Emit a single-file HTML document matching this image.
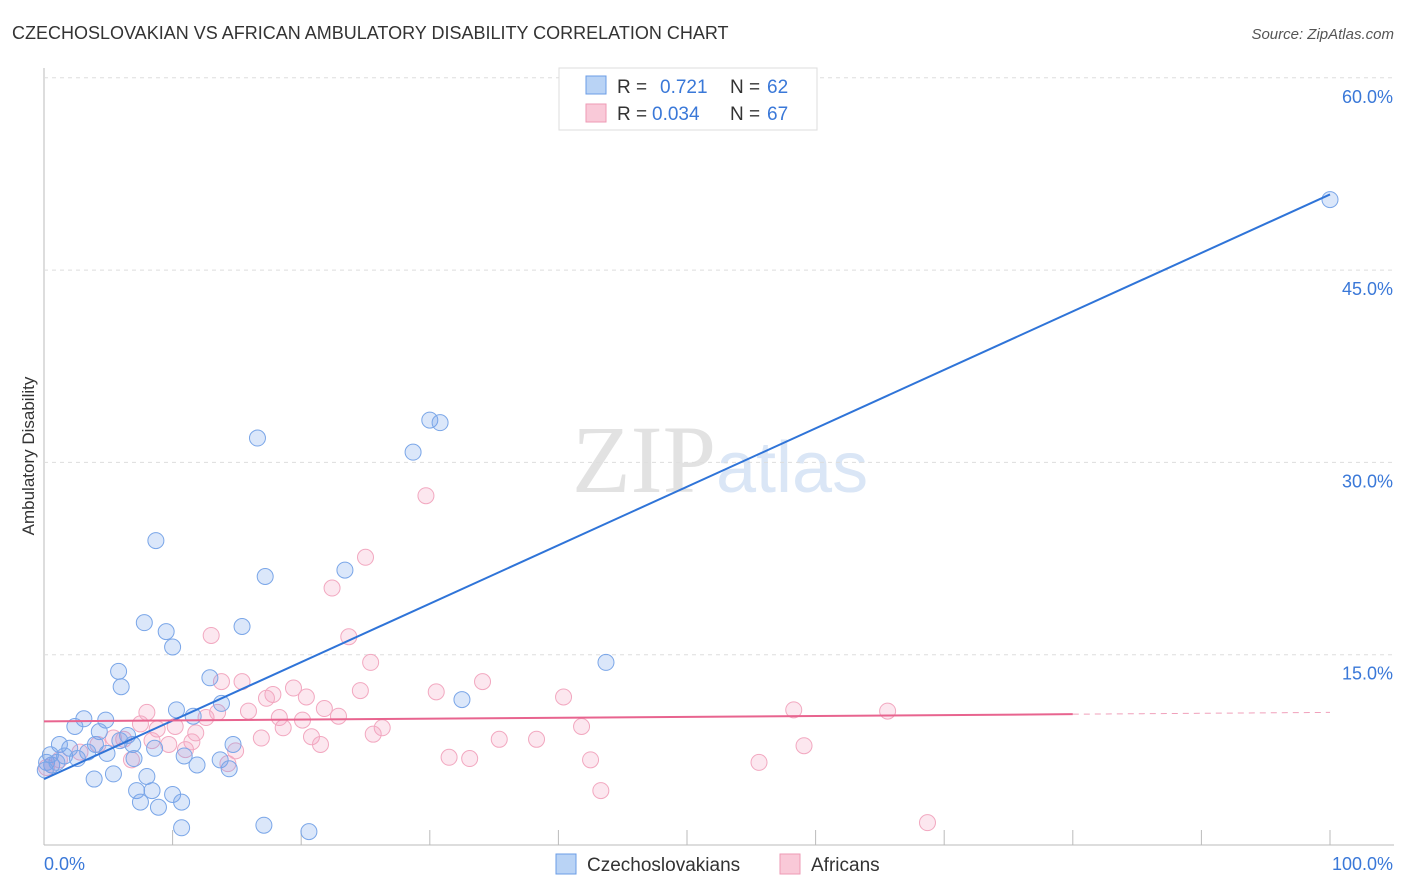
<!DOCTYPE html>
<html><head><meta charset="utf-8"><style>
body{margin:0;background:#fff;font-family:"Liberation Sans",sans-serif;}
svg{display:block}
</style></head><body>
<svg id="chart" width="1406" height="892">
<text x="12" y="39" font-size="18" fill="#333">CZECHOSLOVAKIAN VS AFRICAN AMBULATORY DISABILITY CORRELATION CHART</text>
<text x="1394" y="39" font-size="15" fill="#555" font-style="italic" text-anchor="end">Source: ZipAtlas.com</text>
<text x="34" y="456" font-size="17" fill="#333" text-anchor="middle" transform="rotate(-90 34 456)">Ambulatory Disability</text>
<text x="716" y="492" font-size="96" fill="#e2e2e2" text-anchor="end" font-family="Liberation Serif,serif">ZIP</text>
<text x="716" y="492" font-size="72" fill="#dae6f6">atlas</text>
<g id="grid"></g><g id="pts"></g><g id="lines"></g>
<g>
<rect x="559" y="68" width="258" height="62" fill="#fff" stroke="#ddd"/>
<rect x="586" y="76" width="20" height="18" fill="#b9d3f5" stroke="#6b9de6"/>
<text x="617" y="93" font-size="19" fill="#333">R =</text>
<text x="660" y="93" font-size="19" fill="#3a78d8">0.721</text>
<text x="730" y="93" font-size="19" fill="#333">N =</text>
<text x="767" y="93" font-size="19" fill="#3a78d8">62</text>
<rect x="586" y="104" width="20" height="18" fill="#f9c9d8" stroke="#ee9ab5"/>
<text x="617" y="120" font-size="19" fill="#333">R =</text>
<text x="652" y="120" font-size="19" fill="#3a78d8">0.034</text>
<text x="730" y="120" font-size="19" fill="#333">N =</text>
<text x="767" y="120" font-size="19" fill="#3a78d8">67</text>
</g>
<g>
<rect x="556" y="854" width="20" height="20" fill="#b9d3f5" stroke="#6b9de6"/>
<text x="587" y="871" font-size="19" fill="#333">Czechoslovakians</text>
<rect x="780" y="854" width="20" height="20" fill="#f9c9d8" stroke="#ee9ab5"/>
<text x="811" y="871" font-size="19" fill="#333">Africans</text>
</g>
</svg>
<script>
const yTicks=[15,30,45,60];
const xTickLabels=["0.0%","100.0%"];
const blueX=[100,30.0,30.8,16.6,28.7,8.7,17.2,23.4,7.8,15.4,9.5,10.0,43.7,5.8,6.0,12.9,32.5,13.8,10.3,11.6,3.1,4.8,2.4,4.3,6.5,5.9,4.0,14.7,1.2,2.0,6.9,8.6,3.4,4.9,0.5,1.6,10.9,7.0,2.6,13.7,11.9,0.2,0.6,14.4,5.4,8.0,3.9,8.4,7.2,10.0,7.5,10.7,8.9,10.7,17.1,20.6,0.1,1.0];
const blueY=[50.5,33.3,33.1,31.9,30.8,23.9,21.1,21.6,17.5,17.2,16.8,15.6,14.4,13.7,12.5,13.2,11.5,11.2,10.7,10.2,10.0,9.9,9.4,9.0,8.7,8.3,8.0,8.0,8.0,7.7,8.0,7.7,7.4,7.3,7.2,7.1,7.1,6.9,6.9,6.8,6.4,6.6,6.4,6.1,5.7,5.5,5.3,4.4,4.4,4.1,3.5,3.5,3.1,1.5,1.7,1.2,6.0,6.6];
const pinkX=[29.7,25.0,22.4,13.0,23.7,25.4,34.1,13.8,15.4,19.4,24.6,30.5,17.8,20.4,17.3,40.4,8.0,15.9,21.8,58.3,65.6,13.5,22.9,12.6,18.3,20.1,7.5,10.2,8.8,26.3,41.8,18.6,11.8,25.6,20.8,16.9,6.2,8.4,11.5,35.4,38.3,9.7,21.5,59.1,4.2,5.4,14.9,11.0,2.8,31.5,33.1,6.8,42.5,14.3,55.6,1.2,0.6,0.2,43.3,68.7];
const pinkY=[27.4,22.6,20.2,16.5,16.4,14.4,12.9,12.9,12.9,12.4,12.2,12.1,11.9,11.7,11.6,11.7,10.5,10.6,10.8,10.7,10.6,10.5,10.2,10.1,10.1,9.9,9.6,9.4,9.2,9.3,9.4,9.3,8.9,8.8,8.6,8.5,8.4,8.3,8.2,8.4,8.4,8.0,8.0,7.9,8.0,8.5,7.5,7.6,7.4,7.0,6.9,6.8,6.8,6.5,6.6,6.8,6.4,6.2,4.4,1.9];
const blueFit=[5.3,50.9];
const pinkFit=[9.8,10.5];
const sx=v=>44+v*12.86, sy=v=>847-v*12.82;
const NS="http://www.w3.org/2000/svg";
function mk(t,a,p){const e=document.createElementNS(NS,t);for(const k in a)e.setAttribute(k,a[k]);p.appendChild(e);return e;}
const g=document.getElementById('grid');
mk('line',{x1:44,y1:68,x2:44,y2:845,stroke:'#bbb'},g);
mk('line',{x1:44,y1:845,x2:1394,y2:845,stroke:'#bbb'},g);
for(let i=0;i<=10;i++){const l=mk('line',{x1:sx(i*10),y1:830,x2:sx(i*10),y2:845,stroke:'#bbb'},g);

}
yTicks.forEach(v=>{const l=mk('line',{x1:44,y1:sy(v),x2:1394,y2:sy(v),stroke:'#ddd','stroke-dasharray':'4,4'},g);


const t=mk('text',{x:1393,y:sy(v)+25,'font-size':18,fill:'#3a78d8','text-anchor':'end'},g);t.textContent=v.toFixed(1)+'%';

});
xTickLabels.forEach((s,i)=>{const t=mk('text',{x:i?1393:44,y:870,'font-size':18,fill:'#3a78d8','text-anchor':i?'end':'start'},g);t.textContent=s;

});
const p=document.getElementById('pts');
pinkX.forEach((x,i)=>{const c=mk('circle',{cx:sx(x),cy:sy(pinkY[i]),r:8,fill:'rgba(244,160,190,0.25)',stroke:'#f2a8c0','stroke-width':1},p);

});
blueX.forEach((x,i)=>{const c=mk('circle',{cx:sx(x),cy:sy(blueY[i]),r:8,fill:'rgba(110,160,235,0.25)',stroke:'#7aa6e8','stroke-width':1},p);

});
const L=document.getElementById('lines');
let b=mk('line',{x1:sx(0),y1:sy(blueFit[0]),x2:sx(100),y2:sy(blueFit[1]),stroke:'#2f74d8','stroke-width':2},L);


const pm=pinkFit[0]+(pinkFit[1]-pinkFit[0])*0.8;
let q=mk('line',{x1:sx(0),y1:sy(pinkFit[0]),x2:sx(80),y2:sy(pm),stroke:'#e8648f','stroke-width':2},L);


let q2=mk('line',{x1:sx(80),y1:sy(pm),x2:sx(100),y2:sy(pinkFit[1]),stroke:'#f0a0bb','stroke-width':1,'stroke-dasharray':'6,5'},L);


</script>
</body></html>
